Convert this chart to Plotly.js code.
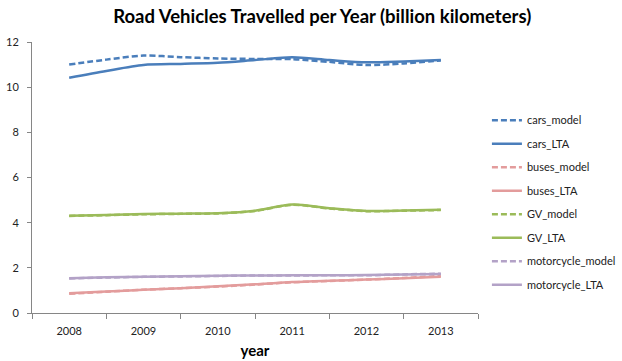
<!DOCTYPE html>
<html>
<head>
<meta charset="utf-8">
<script src="https://cdn.plot.ly/plotly-3.0.1.min.js"></script>
<style>html,body{margin:0;padding:0;background:#fff;}#chart{width:622px;height:361px;}</style>
</head>
<body>
<div id="chart"></div>
<script>
const years = [2008, 2008.5, 2009, 2009.5, 2010, 2010.5, 2011, 2011.5, 2012, 2012.5, 2013];
const tickYears = [2008, 2009, 2010, 2011, 2012, 2013];
const tickLabels = ["2008", "2009", "2010", "2011", "2012", "2013"];

const carsModel = [11.00, 11.22, 11.40, 11.33, 11.27, 11.25, 11.24, 11.12, 10.98, 11.05, 11.18];
const carsLTA = [10.42, 10.72, 10.98, 11.03, 11.08, 11.20, 11.32, 11.20, 11.10, 11.14, 11.20];
const busesModel = [0.85, 0.94, 1.03, 1.10, 1.17, 1.26, 1.36, 1.42, 1.48, 1.55, 1.64];
const busesLTA = [0.87, 0.95, 1.03, 1.10, 1.18, 1.27, 1.37, 1.43, 1.48, 1.54, 1.60];
const gvModel = [4.30, 4.33, 4.37, 4.39, 4.41, 4.52, 4.79, 4.63, 4.51, 4.53, 4.56];
const gvLTA = [4.31, 4.34, 4.38, 4.40, 4.42, 4.53, 4.80, 4.64, 4.52, 4.54, 4.57];
const motoModel = [1.53, 1.57, 1.60, 1.62, 1.64, 1.66, 1.66, 1.67, 1.67, 1.71, 1.74];
const motoLTA = [1.54, 1.58, 1.61, 1.63, 1.65, 1.66, 1.67, 1.67, 1.68, 1.70, 1.73];

const seriesNames = ["cars_model", "cars_LTA", "buses_model", "buses_LTA", "GV_model", "GV_LTA", "motorcycle_model", "motorcycle_LTA"];
const seriesData = [carsModel, carsLTA, busesModel, busesLTA, gvModel, gvLTA, motoModel, motoLTA];
const colors = ["#4A7EBB", "#4A7EBB", "#E39C9C", "#E39C9C", "#9BBB59", "#9BBB59", "#B3A2C7", "#B3A2C7"];
const dashed = [true, false, true, false, true, false, true, false];

const traces = seriesNames.map((n, i) => ({
  x: years,
  y: seriesData[i],
  name: n,
  type: 'scatter',
  mode: 'lines',
  legendgroup: 'g' + i,
  line: {color: colors[i], width: 2.5, shape: 'spline', smoothing: 0.8, dash: dashed[i] ? '6px,3px' : 'solid'}
}));

const font = "Lato, 'Open Sans', 'Liberation Sans', sans-serif";
const layout = {
  width: 622, height: 361,
  margin: {l: 32, r: 144, t: 42, b: 48, autoexpand: false},
  paper_bgcolor: '#fff', plot_bgcolor: '#fff',
  font: {family: font, size: 11, color: '#222'},
  title: {text: '<b>Road Vehicles Travelled per Year (billion kilometers)</b>', font: {family: font, size: 18.5, color: '#000'}, x: 0.518, xanchor: 'center', y: 0.953, yanchor: 'middle'},
  xaxis: {
    range: [2007.5, 2013.5], tickmode: 'array', tickvals: tickYears, ticktext: tickLabels,
    showgrid: false, zeroline: false, showline: true, linecolor: '#868686', linewidth: 1,
    ticks: '', ticklabelstandoff: 8,
    minor: {tickmode: 'linear', tick0: 2007.5, dtick: 1, ticks: 'outside', ticklen: 5, tickcolor: '#868686', showgrid: false},
    title: {text: '<b>year</b>', font: {family: font, size: 15, color: '#000'}, standoff: 9},
    tickfont: {family: font, size: 11, color: '#222'}, fixedrange: true
  },
  yaxis: {
    range: [0, 12], tickmode: 'linear', tick0: 0, dtick: 2,
    showgrid: false, zeroline: false, showline: true, linecolor: '#868686', linewidth: 1,
    ticks: 'outside', ticklen: 4, tickcolor: '#868686', ticklabelstandoff: 6,
    tickfont: {family: font, size: 11, color: '#222'}, fixedrange: true
  },
  showlegend: true,
  legend: {x: 1.02, xanchor: 'left', y: 0.765, yanchor: 'top', tracegroupgap: 4.5, font: {family: font, size: 11, color: '#222'}, bgcolor: 'rgba(0,0,0,0)'}
};

Plotly.newPlot('chart', traces, layout, {staticPlot: true, displayModeBar: false});
</script>
</body>
</html>
